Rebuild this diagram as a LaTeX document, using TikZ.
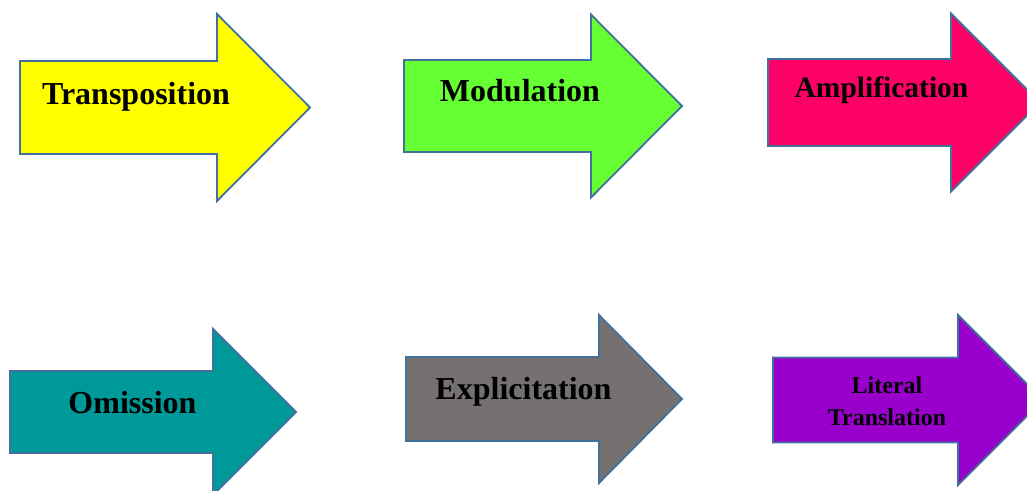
\documentclass[tikz,border=0pt]{standalone}
\usepackage{fontspec}
\setmainfont{Liberation Serif}
\usepackage{tikz}
\usetikzlibrary{positioning,calc}
\definecolor{arrowline}{HTML}{41719C}
\definecolor{cyellow}{HTML}{FFFF00}
\definecolor{cgreen}{HTML}{66FF33}
\definecolor{cpink}{HTML}{FF0066}
\definecolor{cteal}{HTML}{009999}
\definecolor{cgray}{HTML}{767171}
\definecolor{cpurple}{HTML}{9900CC}
\tikzstyle{pointer} = [draw=arrowline, line width=1.8pt, line join=miter]
\tikzstyle{arrtext} = [font=\bfseries\fontsize{32}{36}\selectfont, text=black,
  anchor=base, inner sep=0pt]
\tikzstyle{smalltext} = [arrtext, font=\bfseries\fontsize{24}{32}\selectfont,
  align=center, anchor=center]
% #1 left, #2 head start, #3 tip, #4 middle, #5 body half, #6 head half, #7 fill
\newcommand{\pointer}[7]{\draw[pointer, fill=#7] (#1,#4-#5) -- (#2,#4-#5) -- (#2,#4-#6)
  -- (#3,#4) -- (#2,#4+#6) -- (#2,#4+#5) -- (#1,#4+#5) -- cycle;}
\newcommand{\ptext}[2]{node (t#1)[arrtext]{#2}}

\begin{document}
\begin{tikzpicture}[x=1pt,y=-1pt]
	\useasboundingbox (0,0) rectangle (1027,490);

	% Draw the arrows
	\pointer{20}{217}{310}{107.5}{46.5}{93.5}{cyellow}
	\pointer{404}{591}{682}{106}{46}{91.5}{cgreen}
	\pointer{768}{951}{1040}{102.5}{43.5}{89}{cpink}
	\pointer{10}{213}{296}{412}{41}{83}{cteal}
	\pointer{406}{599}{682}{399}{42}{84}{cgray}
	\pointer{773}{958}{1043}{400}{42.5}{85}{cpurple}

	% Draw the texts
	\path (136,104) \ptext{1}{Transposition};
	\path (520,101) \ptext{2}{Modulation};
	\path (881.5,97) node (t3)[arrtext, font=\bfseries\fontsize{29.5}{34}\selectfont]{Amplification};
	\path (132.5,413) \ptext{4}{Omission};
	\path (523.5,399) \ptext{5}{Explicitation};
	\path (887,401) node (t6)[smalltext]{Literal\\Translation};

\end{tikzpicture}
\end{document}
